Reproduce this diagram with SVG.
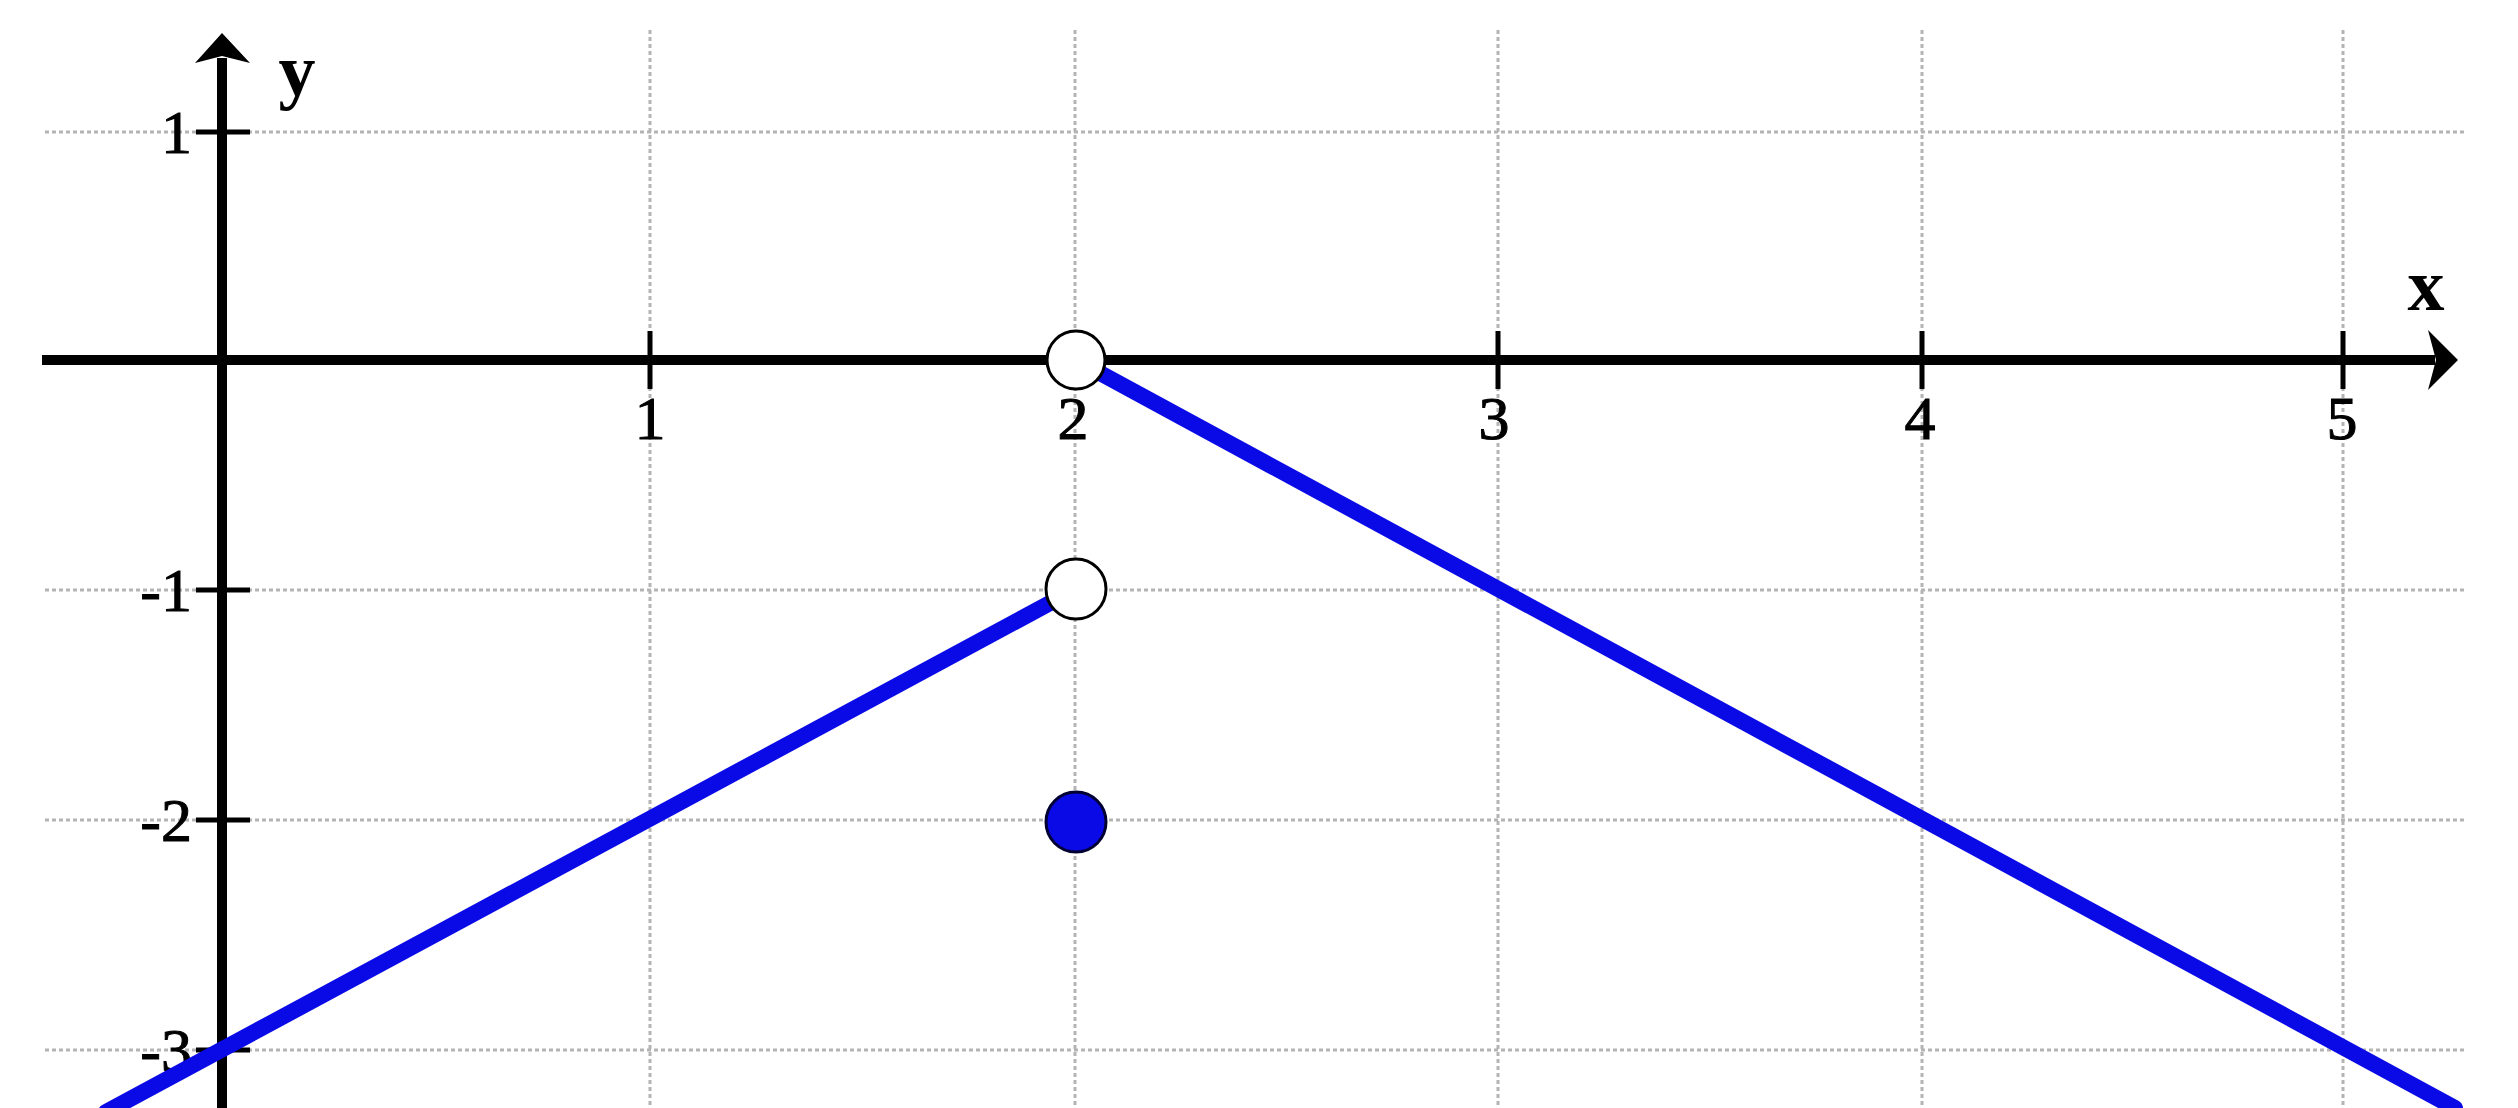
<svg xmlns="http://www.w3.org/2000/svg" width="2518" height="1108" viewBox="0 0 2518 1108">
<style>
.grid{stroke:#b4b4b4;stroke-width:3;stroke-dasharray:4 3;fill:none}
.axis{stroke:#000;stroke-width:10;fill:none}
.tick{stroke:#000;stroke-width:5}
.lbl{font-family:"Liberation Serif","Times New Roman",serif;font-size:62px;fill:#000;stroke:#000;stroke-width:1}
.var{font-family:"Liberation Serif","Times New Roman",serif;font-size:74px;font-weight:bold;fill:#000}
.graph{stroke:#0a0ae6;stroke-width:16;stroke-linecap:round;fill:none}
.open{fill:#fff;stroke:#000;stroke-width:3}
.closed{fill:#0a0ae6;stroke:#000033;stroke-width:3}
</style>
<rect width="2518" height="1108" fill="#fff"/>
<g id="grid">
<line class="grid" x1="650" y1="30" x2="650" y2="1108"/>
<line class="grid" x1="1075" y1="30" x2="1075" y2="1108"/>
<line class="grid" x1="1498" y1="30" x2="1498" y2="1108"/>
<line class="grid" x1="1922" y1="30" x2="1922" y2="1108"/>
<line class="grid" x1="2343" y1="30" x2="2343" y2="1108"/>
<line class="grid" x1="45" y1="132" x2="2465" y2="132"/>
<line class="grid" x1="45" y1="590" x2="2465" y2="590"/>
<line class="grid" x1="45" y1="820" x2="2465" y2="820"/>
<line class="grid" x1="45" y1="1050" x2="2465" y2="1050"/>
</g>
<g id="axes">
<line class="axis" x1="42" y1="360" x2="2435" y2="360"/>
<polygon points="2458,360 2428,330 2436,360 2428,390" fill="#000"/>
<line class="axis" x1="222" y1="1108" x2="222" y2="58"/>
<polygon points="222,33 195,63 222,56 250,63" fill="#000"/>
<line class="tick" x1="650" y1="331" x2="650" y2="389"/>
<line class="tick" x1="1075" y1="331" x2="1075" y2="389"/>
<line class="tick" x1="1498" y1="331" x2="1498" y2="389"/>
<line class="tick" x1="1922" y1="331" x2="1922" y2="389"/>
<line class="tick" x1="2343" y1="331" x2="2343" y2="389"/>
<line class="tick" x1="196" y1="132" x2="250" y2="132"/>
<line class="tick" x1="196" y1="590" x2="250" y2="590"/>
<line class="tick" x1="196" y1="820" x2="250" y2="820"/>
<line class="tick" x1="196" y1="1050" x2="250" y2="1050"/>
<text class="var" x="297" y="95" text-anchor="middle">y</text>
<text class="var" x="2426" y="310" text-anchor="middle">x</text>
</g>
<g id="labels">
<text class="lbl" x="650" y="439" text-anchor="middle">1</text>
<text class="lbl" x="1073" y="439" text-anchor="middle">2</text>
<text class="lbl" x="1494" y="439" text-anchor="middle">3</text>
<text class="lbl" x="1920" y="439" text-anchor="middle">4</text>
<text class="lbl" x="2342" y="439" text-anchor="middle">5</text>
<text class="lbl" x="192" y="153" text-anchor="end">1</text>
<text class="lbl" x="192" y="611" text-anchor="end">-1</text>
<text class="lbl" x="192" y="841" text-anchor="end">-2</text>
<text class="lbl" x="192" y="1071" text-anchor="end">-3</text>
</g>
<g id="connectors">
<line class="graph" x1="106" y1="1112" x2="1076" y2="589"/>
<line class="graph" x1="1076" y1="360" x2="2455" y2="1108"/>
</g>
<g id="open-point-top"><circle class="open" cx="1076" cy="360" r="29"/></g>
<g id="open-point-mid"><circle class="open" cx="1076" cy="589" r="30"/></g>
<g id="closed-point"><circle class="closed" cx="1076" cy="822" r="30"/></g>
</svg>
